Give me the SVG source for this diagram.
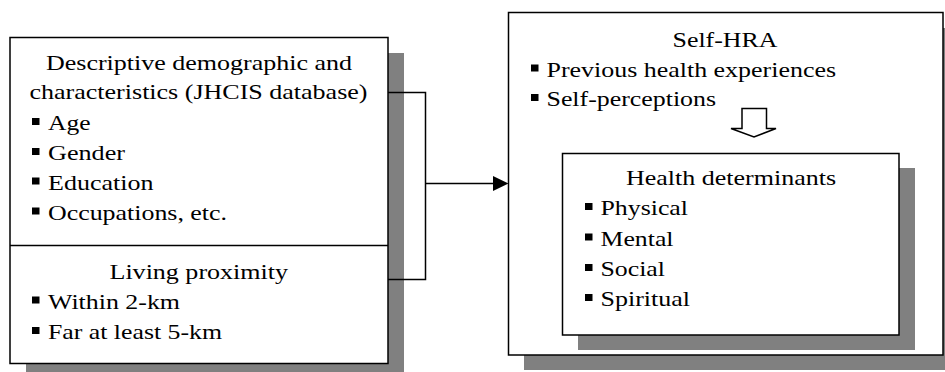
<svg xmlns="http://www.w3.org/2000/svg" width="945" height="372" viewBox="0 0 945 372">
<style>
.box{fill:#fff;stroke:#000;stroke-width:1.5}
.shadow{fill:#808080;stroke:none}
.t{font-family:'Liberation Serif','Times New Roman','DejaVu Serif',serif;font-size:22px;fill:#000}
.b{fill:#000}
.ln{fill:none;stroke:#000;stroke-width:1.5}
</style>
<rect width="945" height="372" fill="#fff"/>
<g id="left-box">
<rect class="shadow" x="26" y="53" width="378" height="326"/>
<rect class="box" x="10" y="37.5" width="378" height="326"/>
<line class="ln" x1="10" y1="245.5" x2="388" y2="245.5"/>
<text class="t" x="46" y="70" textLength="306" lengthAdjust="spacingAndGlyphs">Descriptive demographic and</text>
<text class="t" x="29.5" y="99" textLength="338" lengthAdjust="spacingAndGlyphs">characteristics (JHCIS database)</text>
<rect class="b" x="32" y="118" width="7.5" height="7"/>
<text class="t" x="48" y="130" textLength="42.5" lengthAdjust="spacingAndGlyphs">Age</text>
<rect class="b" x="32" y="148" width="7.5" height="7"/>
<text class="t" x="48" y="160" textLength="77" lengthAdjust="spacingAndGlyphs">Gender</text>
<rect class="b" x="32" y="177.5" width="7.5" height="7"/>
<text class="t" x="48" y="189.5" textLength="105.5" lengthAdjust="spacingAndGlyphs">Education</text>
<rect class="b" x="32" y="207.5" width="7.5" height="7"/>
<text class="t" x="48" y="219.5" textLength="179" lengthAdjust="spacingAndGlyphs">Occupations, etc.</text>
<text class="t" x="109.5" y="278.5" textLength="178.5" lengthAdjust="spacingAndGlyphs">Living proximity</text>
<rect class="b" x="32" y="296.5" width="7.5" height="7"/>
<text class="t" x="48" y="308.5" textLength="132" lengthAdjust="spacingAndGlyphs">Within 2-km</text>
<rect class="b" x="32" y="327" width="7.5" height="7"/>
<text class="t" x="48" y="339" textLength="174" lengthAdjust="spacingAndGlyphs">Far at least 5-km</text>
</g>
<g id="right-box">
<rect class="shadow" x="524" y="28" width="435" height="342"/>
<rect class="box" x="508.5" y="12.5" width="434.5" height="342.5"/>
<text class="t" x="672.5" y="46.5" textLength="105" lengthAdjust="spacingAndGlyphs">Self-HRA</text>
<rect class="b" x="531" y="64.5" width="7.5" height="7"/>
<text class="t" x="546.5" y="76.5" textLength="289.5" lengthAdjust="spacingAndGlyphs">Previous health experiences</text>
<rect class="b" x="531" y="94" width="7.5" height="7"/>
<text class="t" x="546.5" y="106" textLength="169.5" lengthAdjust="spacingAndGlyphs">Self-perceptions</text>
</g>
<g id="health-determinants">
<rect class="shadow" x="578" y="168" width="337" height="182"/>
<rect class="box" x="562.5" y="153.5" width="336.5" height="181.5"/>
<text class="t" x="626" y="185" textLength="210" lengthAdjust="spacingAndGlyphs">Health determinants</text>
<rect class="b" x="585" y="203" width="7.5" height="7"/>
<text class="t" x="600.5" y="215" textLength="87.5" lengthAdjust="spacingAndGlyphs">Physical</text>
<rect class="b" x="585" y="233.5" width="7.5" height="7"/>
<text class="t" x="600.5" y="245.5" textLength="73" lengthAdjust="spacingAndGlyphs">Mental</text>
<rect class="b" x="585" y="264" width="7.5" height="7"/>
<text class="t" x="600.5" y="276" textLength="64.5" lengthAdjust="spacingAndGlyphs">Social</text>
<rect class="b" x="585" y="294" width="7.5" height="7"/>
<text class="t" x="600.5" y="306" textLength="89.5" lengthAdjust="spacingAndGlyphs">Spiritual</text>
</g>
<g id="connectors">
<path class="ln" d="M388 92.5 H425.5 V279.5 H388"/>
<line class="ln" x1="425.5" y1="183.5" x2="495" y2="183.5"/>
<polygon fill="#000" points="493,176 508.5,183.5 493,191"/>
<path fill="#fff" stroke="#000" stroke-width="1.5" stroke-linejoin="miter" d="M742 108.5 H766.5 V128.5 H776 L754 137 L731 128.5 H742 Z"/>
</g>
</svg>
